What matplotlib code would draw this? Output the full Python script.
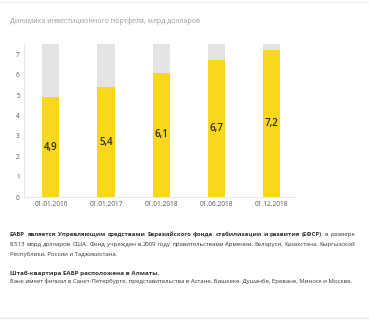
import matplotlib.pyplot as plt
import numpy as np
from matplotlib.textpath import TextPath
from matplotlib.font_manager import FontProperties

plt.rcParams['font.family'] = ['Open Sans', 'DejaVu Sans']

# Данные
dates = ['01.01.2016', '01.01.2017', '01.01.2018', '01.06.2018', '01.12.2018']
values = [4.9, 5.4, 6.1, 6.7, 7.2]
labels = ['4,9', '5,4', '6,1', '6,7', '7,2']
bg_top = 7.5

yellow = '#F9D71F'
grey = '#E4E4E4'

fig = plt.figure(figsize=(3.69, 3.20), dpi=100)
ax = fig.add_axes([0.065, 0.384, 0.737, 0.478])

x = np.arange(len(dates))
ax.bar(x, [bg_top] * len(x), width=0.31, color=grey, zorder=1)
ax.bar(x, values, width=0.31, color=yellow, zorder=2)
for xi, v, lab in zip(x, values, labels):
    ax.text(xi, v / 2, lab, ha='center', va='center', fontsize=7,
            color='#2A2A2A', fontweight='semibold', zorder=3)

ax.set_xlim(-0.49, 4.45)
ax.set_ylim(0, bg_top)
ax.set_xticks(x)
ax.set_xticklabels(dates)
ax.set_yticks(range(8))
ax.tick_params(length=0, labelsize=4.7, colors='#555555', pad=3)
for s in ['top', 'right']:
    ax.spines[s].set_visible(False)
for s in ['left', 'bottom']:
    ax.spines[s].set_color('#E8E8E8')
    ax.spines[s].set_linewidth(0.8)

fig.text(0.027, 0.933, 'Динамика инвестиционного портфеля, млрд долларов',
         fontsize=5.0, color='#999999', va='center')

# Текст под графиком
tc = '#333333'


def fy(y):
    return 1 - y / 320


def word_px(w, size, weight):
    fp = FontProperties(family='Open Sans', weight=weight, size=size)
    tp = TextPath((0, 0), w, size=size, prop=fp)
    return tp.get_extents().width * 100 / 72


def justify(words, y, x0=10, x1=354, bold_n=0, size=4.3):
    weights = ['bold' if i < bold_n else 'normal' for i in range(len(words))]
    widths = [word_px(w, size, wt) for w, wt in zip(words, weights)]
    gap = (x1 - x0 - sum(widths)) / (len(words) - 1)
    pos = x0
    for w, wt, wd in zip(words, weights, widths):
        fig.text(pos / 369, fy(y), w, fontsize=size, color=tc,
                 va='baseline', fontweight=wt)
        pos += wd + gap


line1 = 'ЕАБР является Управляющим средствами Евразийского фонда стабилизации и развития (ЕФСР) в размере'.split()
justify(line1, 236, bold_n=10)
line2 = '8.513 млрд долларов США. Фонд учрежден в 2009 году правительствами Армении, Беларуси, Казахстана, Кыргызской'.split()
justify(line2, 246)
fig.text(10 / 369, fy(256), 'Республики, России и Таджикистана.',
         fontsize=4.3, color=tc, va='baseline')
fig.text(10 / 369, fy(275), 'Штаб-квартира ЕАБР расположена в Алматы.',
         fontsize=4.5, color=tc, va='baseline', fontweight='bold')
fig.text(10 / 369, fy(283),
         'Банк имеет филиал в Санкт-Петербурге, представительства в Астане, Бишкеке, Душанбе, Ереване, Минске и Москве.',
         fontsize=4.3, color=tc, va='baseline')

fig.add_artist(plt.Line2D([0, 1], [fy(318)] * 2, color='#E6E6E6', lw=1))
fig.add_artist(plt.Line2D([0, 1], [fy(2)] * 2, color='#F0F0F0', lw=1))

fig.savefig('out.png', dpi=100)
